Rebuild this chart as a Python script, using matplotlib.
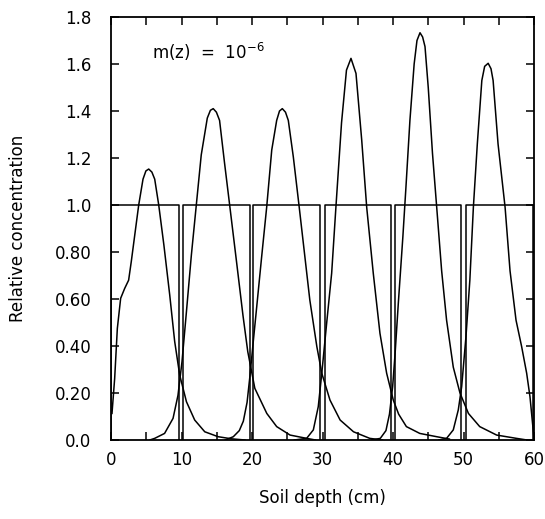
import numpy as np
import matplotlib
matplotlib.use("Agg")
from matplotlib import pyplot as plt
from matplotlib.ticker import MultipleLocator, FixedLocator

# soil layer boxes (initial pulses), relative concentration 1.0
box_left = [0.0, 10.2, 20.2, 30.3, 40.3, 50.3]
box_right = [9.7, 19.7, 29.7, 39.7, 49.7, 59.8]
box_height = 1.0

# concentration profiles
c1_x = [0.14, 0.52, 0.9, 1.37, 1.94, 2.5, 2.88, 3.36, 3.93, 4.54, 4.95, 5.35, 5.8, 6.2, 6.77, 7.5,
        8.33, 9.03, 9.74, 10.7, 11.87, 13.3, 15.2, 17.1, 19.0]
c1_y = [0.113, 0.262, 0.475, 0.603, 0.645, 0.68, 0.76, 0.87, 1.0, 1.11, 1.145, 1.153, 1.14, 1.11, 1.0, 0.83,
        0.617, 0.42, 0.277, 0.163, 0.085, 0.035, 0.014, 0.005, 0.0]

c2_x = [5.5, 6.2, 7.6, 8.8, 9.5, 10.07, 10.7, 11.4, 12.1, 12.8, 13.66, 14.1, 14.5, 14.95, 15.4, 16.1,
        16.83, 17.8, 18.72, 19.4, 20.4, 22.1, 23.5, 25.4, 27.75, 29.0]
c2_y = [0.0, 0.007, 0.028, 0.092, 0.19, 0.333, 0.546, 0.787, 1.0, 1.213, 1.37, 1.403, 1.41, 1.395, 1.36, 1.18,
        1.0, 0.76, 0.53, 0.376, 0.22, 0.113, 0.057, 0.021, 0.007, 0.0]

c3_x = [16.2, 17.35, 18.2, 18.77, 19.3, 19.7, 20.2, 20.67, 21.37, 22.08, 22.8, 23.5, 23.9, 24.3, 24.75,
        25.15, 25.86, 26.7, 27.5, 28.2, 29.2, 29.9, 31.06, 32.5, 34.4, 36.7, 38.5]
c3_y = [0.0, 0.014, 0.04, 0.08, 0.16, 0.27, 0.425, 0.567, 0.78, 0.99, 1.234, 1.36, 1.40, 1.41, 1.395,
        1.36, 1.205, 0.99, 0.78, 0.596, 0.397, 0.284, 0.17, 0.085, 0.035, 0.007, 0.0]

c4_x = [26.0, 27.75, 28.7, 29.4, 29.9, 30.6, 31.3, 31.9, 32.7, 33.4, 34.04, 34.75, 35.56, 36.27, 37.2,
        38.15, 39.1, 40.04, 40.8, 41.9, 43.8, 46.2, 48.0]
c4_y = [0.0, 0.007, 0.043, 0.142, 0.284, 0.5, 0.71, 0.99, 1.35, 1.574, 1.624, 1.56, 1.277, 0.99, 0.71,
        0.454, 0.284, 0.17, 0.11, 0.057, 0.028, 0.014, 0.004]

c5_x = [37.0, 38.2, 39.0, 39.5, 39.95, 40.3, 40.75, 41.4, 41.84, 42.4, 43.0, 43.4, 43.83, 44.2, 44.54,
        45.0, 45.6, 46.2, 46.9, 47.6, 48.55, 49.5, 50.7, 52.3, 54.7, 57.5, 59.0]
c5_y = [0.0, 0.007, 0.04, 0.11, 0.227, 0.369, 0.58, 0.865, 1.078, 1.36, 1.6, 1.70, 1.733, 1.715, 1.674,
        1.5, 1.22, 0.99, 0.72, 0.51, 0.31, 0.2, 0.113, 0.057, 0.021, 0.007, 0.0]

c6_x = [46.5, 47.6, 48.55, 49.26, 49.74, 50.35, 50.9, 51.4, 51.96, 52.6, 53.0, 53.5, 53.9, 54.2, 54.9,
        55.9, 56.6, 57.45, 58.25, 58.96, 59.43, 60.0]
c6_y = [0.0, 0.007, 0.043, 0.128, 0.227, 0.44, 0.68, 0.99, 1.26, 1.53, 1.59, 1.603, 1.58, 1.53, 1.26,
        0.99, 0.72, 0.51, 0.397, 0.284, 0.184, 0.007]

y_ticks = [0.0, 0.2, 0.4, 0.6, 0.8, 1.0, 1.2, 1.4, 1.6, 1.8]
y_labels = ["0.0", "0.20", "0.40", "0.60", "0.80", "1.0", "1.2", "1.4", "1.6", "1.8"]
x_ticks = [0, 10, 20, 30, 40, 50, 60]

plt.rcParams["font.family"] = ["DejaVu Sans"]
plt.rcParams["font.size"] = 12

fig = plt.figure(figsize=(5.45, 5.19), dpi=100)
ax = fig.add_axes([111 / 545, 79 / 519, 423 / 545, 423 / 519])

lw = 1.1
for l, r in zip(box_left, box_right):
    ax.plot([l, l, r, r], [0, box_height, box_height, 0], color="black", lw=lw)

for cx, cy in [(c1_x, c1_y), (c2_x, c2_y), (c3_x, c3_y), (c4_x, c4_y), (c5_x, c5_y), (c6_x, c6_y)]:
    ax.plot(cx, cy, color="black", lw=lw)

ax.set_xlim(0, 60)
ax.set_ylim(0, 1.8)
ax.xaxis.set_major_locator(FixedLocator(x_ticks))
ax.xaxis.set_minor_locator(MultipleLocator(5))
ax.set_yticks(y_ticks)
ax.set_yticklabels(y_labels)
ax.tick_params(which="both", direction="in", top=True, right=True, length=6, width=1.1, pad=8)
ax.tick_params(axis="y", pad=14)
for s in ax.spines.values():
    s.set_linewidth(1.3)

ax.set_xlabel("Soil depth (cm)", labelpad=14)
ax.set_ylabel("Relative concentration", labelpad=20)
ax.text(5.8, 1.62, r"m(z)  =  10$^{-6}$", fontsize=12)

fig.savefig("out.png", dpi=100)
